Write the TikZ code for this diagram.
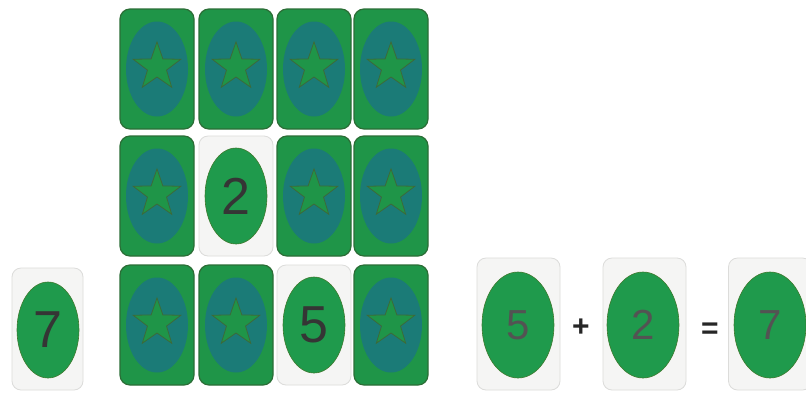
\documentclass[tikz,border=0pt]{standalone}
\usepackage{fontspec}
\setmainfont{Liberation Sans}
\usetikzlibrary{shapes.geometric}
\definecolor{cardgreen}{HTML}{1F9548}
\definecolor{cardedge}{HTML}{2B6E36}
\definecolor{tealoval}{HTML}{1B7B77}
\definecolor{ovalgreen}{HTML}{1F9A4C}
\definecolor{ovaledge}{HTML}{3E7A2E}
\definecolor{starline}{HTML}{3C6A3A}
\definecolor{whitecard}{HTML}{F5F5F4}
\definecolor{whiteedge}{HTML}{DCDCDA}
\definecolor{digit}{HTML}{353535}
\tikzset{
  greencard/.style={draw=cardedge, line width=1.2pt, fill=cardgreen, rounded corners=10pt,
    minimum width=74pt, minimum height=120pt, inner sep=0pt},
  whitebox/.style={draw=whiteedge, line width=0.8pt, fill=whitecard, rounded corners=9pt,
    minimum width=74pt, minimum height=120pt, inner sep=0pt},
  bigbox/.style={whitebox, minimum width=83pt, minimum height=132pt},
  tealov/.style={ellipse, fill=tealoval, minimum width=62pt, minimum height=95pt, inner sep=0pt},
  greenov/.style={ellipse, draw=ovaledge, line width=0.6pt, fill=ovalgreen, minimum width=62pt, minimum height=96pt, inner sep=0pt,
    text=digit, font=\fontsize{52}{52}\selectfont},
  bigov/.style={greenov, minimum width=72pt, minimum height=106pt, text=digit!85, font=\fontsize{42}{42}\selectfont},
  starshape/.style={star, star points=5, star point ratio=2.5, minimum size=50pt, inner sep=0pt,
    fill=cardgreen, draw=starline, line width=0.8pt},
  opsign/.style={text=black!85, font=\bfseries\fontsize{30}{30}\selectfont, inner sep=0pt}
}
\begin{document}
\begin{tikzpicture}[x=1pt,y=-1pt]
\useasboundingbox (0,0) rectangle (806,392);
\fill[white] (0,0) rectangle (806,392);
% grid of cards
\foreach \c/\x in {1/157,2/236,3/314,4/391}{
  \foreach \r/\y in {1/69,2/196,3/325}{
    \ifnum\c\r=22\relax
    \else\ifnum\c\r=33\relax
    \else
      \node[greencard] (g\c\r) at (\x,\y) {};
      \node[tealov] (t\c\r) at (\x,\y) {};
      \node[starshape] (s\c\r) at (\x,\y-2) {};
    \fi\fi
  }
}
\node[whitebox] (w22) at (236,196) {};
\node[greenov] (o22) at (236,196) {2};
\node[whitebox] (w33) at (314,325) {};
\node[greenov] (o33) at (314,325) {5};
% left card
\node[whitebox, minimum width=71pt, minimum height=122pt] (wl) at (47.5,329) {};
\node[greenov] (ol) at (48,330) {7};
% equation
\node[bigbox] (we1) at (518.5,324) {};
\node[bigov] (oe1) at (518,325) {5};
\node[opsign] (plus) at (581,328) {+};
\node[bigbox] (we2) at (644.5,324) {};
\node[bigov] (oe2) at (643,325) {2};
\node[opsign] (eq) at (710,331) {=};
\node[bigbox] (we3) at (770,324) {};
\node[bigov] (oe3) at (770,325) {7};
\end{tikzpicture}
\end{document}
